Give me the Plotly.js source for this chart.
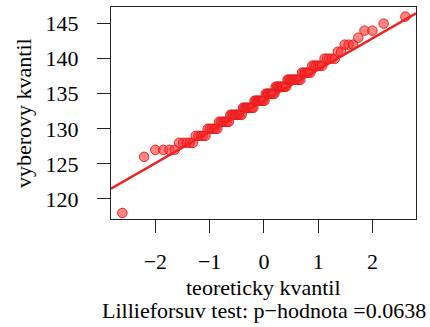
<!DOCTYPE html>
<html><head><meta charset="utf-8">
<script src="https://cdn.plot.ly/plotly-3.0.1.min.js"></script>
<style>html,body{margin:0;padding:0;background:#fff}#chart{width:430px;height:327px}</style>
</head><body><div id="chart"></div>
<script>
// sample values (integer levels) and how many observations sit at each level
const sampleLevels = [118,126,127,128,129,130,131,132,133,134,135,136,137,138,139,140,141,142,143,144,145,146];
const sampleCounts = [1,1,4,5,5,6,7,9,9,9,8,9,10,6,6,5,2,3,1,2,1,1];
const xTickVals = [-2,-1,0,1,2];
const yTickVals = [120,125,130,135,140,145];
const xTitle = 'teoreticky kvantil';
const yTitle = 'vyberovy kvantil';
const subtitle = 'Lillieforsuv test: p\u2212hodnota =0.0638';

// expand to sorted sample
const sample = [];
sampleLevels.forEach((v,i)=>{ for(let k=0;k<sampleCounts[i];k++) sample.push(v); });
sample.sort((a,b)=>a-b);
const n = sample.length;

// inverse normal CDF (Acklam)
function qnorm(p){
  const a=[-3.969683028665376e+01,2.209460984245205e+02,-2.759285104469687e+02,1.383577518672690e+02,-3.066479806614716e+01,2.506628277459239e+00];
  const b=[-5.447609879822406e+01,1.615858368580409e+02,-1.556989798598866e+02,6.680131188771972e+01,-1.328068155288572e+01];
  const c=[-7.784894002430293e-03,-3.223964580411365e-01,-2.400758277161838e+00,-2.549732539343734e+00,4.374664141464968e+00,2.938163982698783e+00];
  const d=[7.784695709041462e-03,3.224671290700398e-01,2.445134137142996e+00,3.754408661907416e+00];
  const pl=0.02425, ph=1-pl; let q,r;
  if(p<pl){ q=Math.sqrt(-2*Math.log(p)); return (((((c[0]*q+c[1])*q+c[2])*q+c[3])*q+c[4])*q+c[5])/((((d[0]*q+d[1])*q+d[2])*q+d[3])*q+1); }
  if(p<=ph){ q=p-0.5; r=q*q; return (((((a[0]*r+a[1])*r+a[2])*r+a[3])*r+a[4])*r+a[5])*q/(((((b[0]*r+b[1])*r+b[2])*r+b[3])*r+b[4])*r+1); }
  q=Math.sqrt(-2*Math.log(1-p)); return -(((((c[0]*q+c[1])*q+c[2])*q+c[3])*q+c[4])*q+c[5])/((((d[0]*q+d[1])*q+d[2])*q+d[3])*q+1);
}
const aPP = n>10 ? 0.5 : 3/8;
const theo = sample.map((v,i)=>qnorm((i+1-aPP)/(n+1-2*aPP)));

// quantile type 7
function quant(arr,p){ const h=(arr.length-1)*p; const lo=Math.floor(h); const hi=Math.min(lo+1,arr.length-1); return arr[lo]+(h-lo)*(arr[hi]-arr[lo]); }
const q1=quant(sample,0.25), q3=quant(sample,0.75);
const slope=(q3-q1)/(qnorm(0.75)-qnorm(0.25));
const intercept=q1-slope*qnorm(0.25);

const xRange=[-2.818,2.804], yRange=[117.14,147.37];
const lineX=[xRange[0],xRange[1]];
const lineY=lineX.map(x=>intercept+slope*x);

const font={family:"'Liberation Serif', 'DejaVu Serif', serif",size:22,color:'#000'};

const traces=[
 {x:theo,y:sample,type:'scatter',mode:'markers',
  marker:{size:9.5,color:'rgba(255,50,50,0.6)',line:{color:'rgba(225,25,25,0.9)',width:1}},hoverinfo:'skip'},
 {x:lineX,y:lineY,type:'scatter',mode:'lines',line:{color:'#EE2222',width:2.4},hoverinfo:'skip'}
];
const axBase={showgrid:false,zeroline:false,showline:true,mirror:true,linecolor:'#222',linewidth:1,
  ticks:'outside',ticklen:13,tickwidth:1,tickcolor:'#222',tickfont:font};
const layout={
 width:430,height:327,margin:{l:111,r:14,t:7,b:108},
 paper_bgcolor:'#fff',plot_bgcolor:'#fff',showlegend:false,font:font,
 xaxis:Object.assign({},axBase,{range:xRange,tickvals:xTickVals,ticklabelstandoff:10}),
 yaxis:Object.assign({},axBase,{range:yRange,tickvals:yTickVals,ticklabelstandoff:14}),
 annotations:[
  {text:xTitle,xref:'paper',yref:'paper',x:0.5,y:0,xanchor:'center',yanchor:'middle',yshift:-68,showarrow:false,font:font},
  {text:subtitle,xref:'paper',yref:'paper',x:0.5,y:0,xanchor:'center',yanchor:'middle',yshift:-91,showarrow:false,font:font},
  {text:yTitle,xref:'paper',yref:'paper',x:0,y:0.5,xanchor:'center',yanchor:'middle',xshift:-88,textangle:-90,showarrow:false,font:font}
 ]
};
Plotly.newPlot('chart',traces,layout,{staticPlot:true,displayModeBar:false});
</script></body></html>
